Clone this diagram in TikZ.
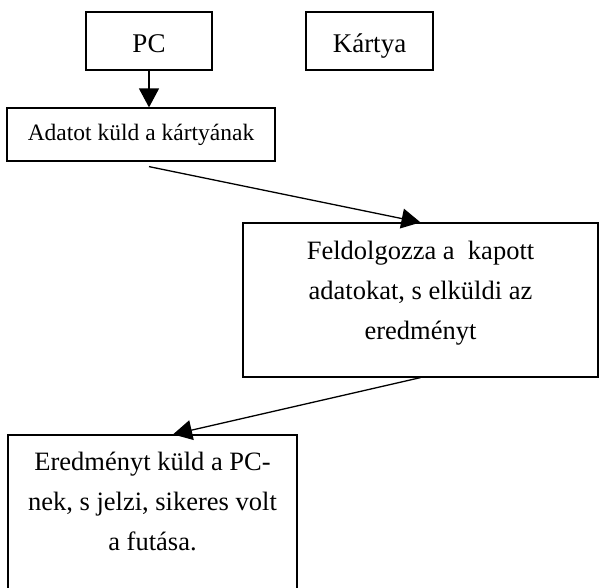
\documentclass[tikz,border=0pt]{standalone}
\usepackage{fontspec}
\setmainfont{Liberation Serif}
\usetikzlibrary{shapes, arrows.meta, positioning, calc}

\begin{document}
\begin{tikzpicture}[x=1pt,y=-1pt,
				box/.style={draw,line width=1.2pt,rectangle,inner sep=0pt},
				head/.style={font=\fontsize{27}{32}\selectfont,text height=22pt,text depth=0pt},
				txt/.style={inner sep=0pt,align=center,font=\fontsize{23.5}{40}\selectfont},
				big/.style={txt,font=\fontsize{26.5}{40}\selectfont},
				arr/.style={line width=1.3pt,-{Triangle[length=19pt,width=20pt]}}]
				\useasboundingbox (0,0) rectangle (599,587);
				% fejlec
				\node[box,head,minimum width=126pt,minimum height=58pt] (pc) at (149,41) {PC};
				\node[box,head,minimum width=127pt,minimum height=58pt] (kartya) at (369.5,41) {Kártya};
				% lepesek
				\node[box,txt,minimum width=268pt,minimum height=53pt] (adat) at (141,134.5) {Adatot küld a kártyának};
				\node[box,minimum width=355pt,minimum height=154pt] (feld) at (420.5,300) {};
				\node[big,anchor=north] (feldtext) at ([yshift=-19pt]feld.north) {Feldolgozza a~~kapott\\adatokat, s elküldi az\\eredményt};
				\node[box,minimum width=289pt,minimum height=185pt] (ered) at (152.5,527.5) {};
				\node[big,anchor=north] (eredtext) at ([yshift=-17pt]ered.north) {Eredményt küld a PC-\\nek, s jelzi, sikeres volt\\a futása.};
				% nyilak
				\draw[arr] (pc.south) -- (pc.south |- adat.north);
				\draw[arr] ([xshift=8pt,yshift=-5pt]adat.south) -- (feld.north);
				\draw[arr] (feld.south) -- ([xshift=20.5pt]ered.north);
			\end{tikzpicture}
\end{document}
